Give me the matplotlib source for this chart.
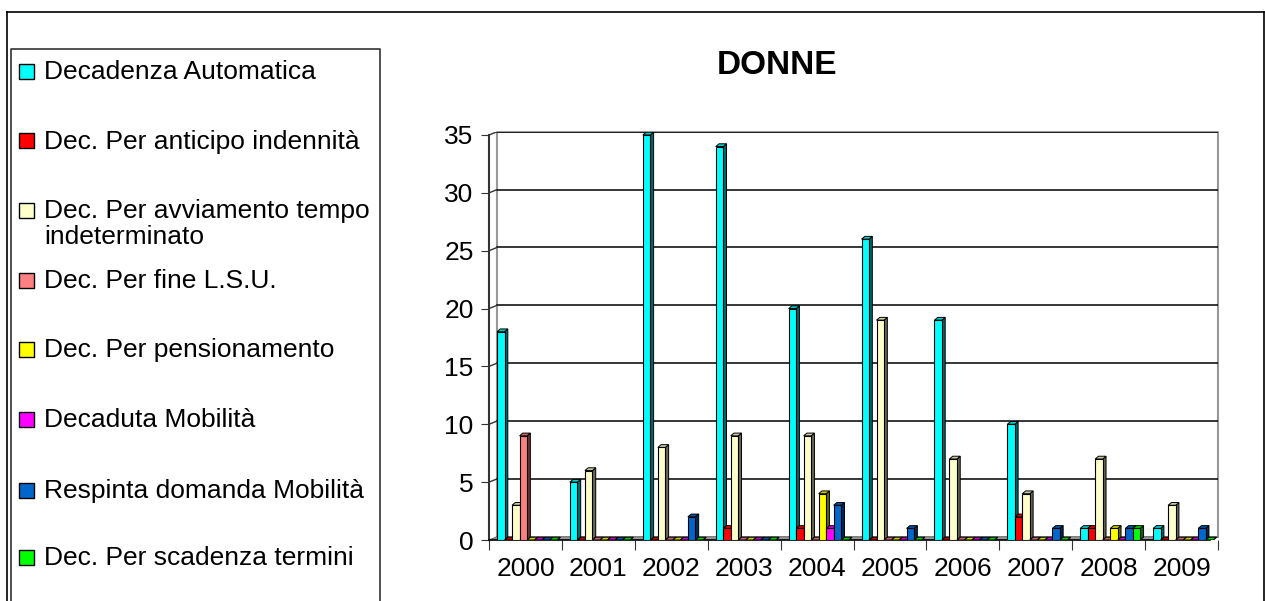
import matplotlib
matplotlib.use("Agg")
import matplotlib.pyplot as plt
import numpy as np
from matplotlib.patches import Polygon, Rectangle
from matplotlib.lines import Line2D
from matplotlib.colors import to_rgb

plt.rcParams['font.family'] = ['Liberation Sans', 'DejaVu Sans']

years = ['2000', '2001', '2002', '2003', '2004', '2005', '2006', '2007', '2008', '2009']

labels = ['Decadenza Automatica',
          'Dec. Per anticipo indennità',
          'Dec. Per avviamento tempo\nindeterminato',
          'Dec. Per fine L.S.U.',
          'Dec. Per pensionamento',
          'Decaduta Mobilità',
          'Respinta domanda Mobilità',
          'Dec. Per scadenza termini']

automatica = [18, 5, 35, 34, 20, 26, 19, 10, 1, 1]
anticipo = [0, 0, 0, 1, 1, 0, 0, 2, 1, 0]
avviamento = [3, 6, 8, 9, 9, 19, 7, 4, 7, 3]
lsu = [9, 0, 0, 0, 0, 0, 0, 0, 0, 0]
pensionamento = [0, 0, 0, 0, 4, 0, 0, 0, 1, 0]
decaduta = [0, 0, 0, 0, 1, 0, 0, 0, 0, 0]
respinta = [0, 0, 2, 0, 3, 1, 0, 1, 1, 1]
scadenza = [0, 0, 0, 0, 0, 0, 0, 0, 1, 0]

series = [automatica, anticipo, avviamento, lsu, pensionamento, decaduta, respinta, scadenza]
colors = ['#00FFFF', '#FF0000', '#FFFFCC', '#FF8080', '#FFFF00', '#FF00FF', '#0066CC', '#00FF00']

W, H = 1265, 601
fig = plt.figure(figsize=(W / 100, H / 100), dpi=100)


def fx(px):
    return px / W


def fy(py):
    return 1 - py / H


# axes box in pixels: left 489, right 1218, y=0 at 540, top 132
ytop = 35 * 408 / 405
ax = fig.add_axes([fx(489), fy(540), fx(1218) - fx(489), (540 - 132) / H])
ax.set_xlim(0, 10)
ax.set_ylim(0, ytop)

# fake 3d wall / floor
bdx, bdy = 0.11, 0.28
ax.plot([bdx, bdx, 10, 10], [bdy, ytop, ytop, bdy], color='#999999', lw=1.5, zorder=1, clip_on=False)
ax.add_patch(Polygon([(0, 0), (10 - bdx, 0), (10, bdy), (bdx, bdy)], closed=True,
                     facecolor='#999999', edgecolor='#666666', lw=0.8, zorder=1))
yt = np.arange(0, 36, 5)
for y in yt[1:]:
    ax.plot([bdx, 10], [y + bdy, y + bdy], color='black', lw=1.1, zorder=1)
    ax.plot([0, bdx], [y, y + bdy], color='#333333', lw=1, zorder=1)

# bars
bw = 0.103
ddx, ddy = 0.045, 0.24
x = np.arange(len(years))
for j, (vals, c) in enumerate(zip(series, colors)):
    rgb = np.array(to_rgb(c))
    side = rgb * 0.4
    top = rgb * 0.8
    xl = x + bdx + j * bw
    z = 3 + j
    for xi, h in zip(xl, vals):
        xr = xi + bw
        ax.add_patch(Polygon([(xr, 0), (xr + ddx, ddy), (xr + ddx, h + ddy), (xr, h)],
                             closed=True, facecolor=side, edgecolor='black', lw=0.7, zorder=z))
        ax.add_patch(Polygon([(xi, h), (xi + ddx, h + ddy), (xr + ddx, h + ddy), (xr, h)],
                             closed=True, facecolor=top, edgecolor='black', lw=0.7, zorder=z))
    ax.bar(xl, vals, width=bw, align='edge', color=c, edgecolor='black', lw=0.8, zorder=z)

for s in ['top', 'right']:
    ax.spines[s].set_visible(False)
ax.spines['left'].set_color('#333333')
ax.spines['left'].set_linewidth(1.5)
ax.spines['bottom'].set_color('black')
ax.spines['bottom'].set_linewidth(1.2)
ax.spines['bottom'].set_bounds(0, 10 - bdx)
ax.spines['left'].set_bounds(0, 35)

ax.set_yticks(yt)
ax.set_yticklabels([str(v) for v in yt], fontsize=19)
ax.set_xticks(np.arange(0, 11))
ax.set_xticklabels([])
ax.set_xticks(x + 0.5, minor=True)
ax.set_xticklabels(years, minor=True, fontsize=19)
ax.tick_params(axis='x', which='minor', length=0, pad=12)
ax.tick_params(axis='x', which='major', length=7, color='#333333')
ax.tick_params(axis='y', length=6, color='#333333', pad=5)

fig.text(fx(777), fy(65), 'DONNE', fontsize=24, fontweight='bold', ha='center', va='center')

# outer frame
fig.add_artist(Line2D([fx(7), fx(7)], [fy(12), 0], color='black', lw=1.2))
fig.add_artist(Line2D([fx(7), fx(1264)], [fy(12), fy(12)], color='black', lw=1.2))
fig.add_artist(Line2D([fx(1264), fx(1264)], [fy(12), 0], color='black', lw=1.2))

# legend box
fig.add_artist(Line2D([fx(11), fx(11), fx(380), fx(380)], [0, fy(49), fy(49), 0], color='#333333', lw=1.2))
rows = [71, 140.5, 210, 280, 349, 419, 490, 557]
for lab, c, ry in zip(labels, colors, rows):
    fig.add_artist(Rectangle((fx(19), fy(ry + 7.5)), fx(15), 15 / H, facecolor=c, edgecolor='black', lw=1))
    fig.text(fx(44), fy(ry - 11), lab, fontsize=19, ha='left', va='top', linespacing=1.1)

fig.savefig('out.png', dpi=100)
